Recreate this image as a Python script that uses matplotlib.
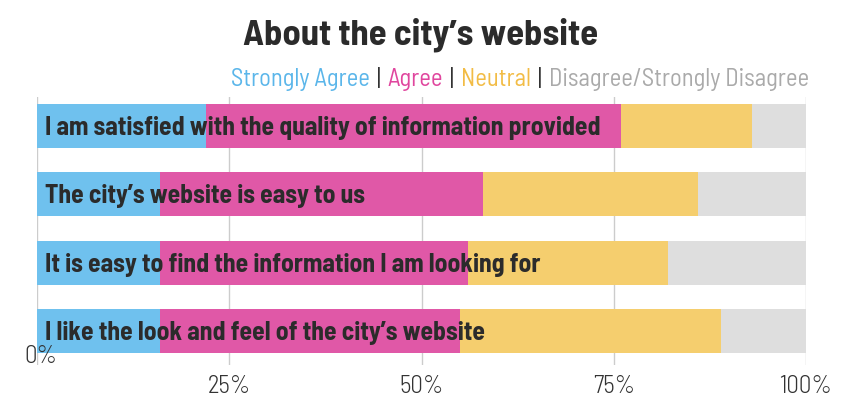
import matplotlib
matplotlib.use("Agg")
import matplotlib.pyplot as plt
import numpy as np
from matplotlib.offsetbox import TextArea, HPacker, AnchoredOffsetbox

questions = [
    "I am satisfied with the quality of information provided",
    "The city\u2019s website is easy to us",
    "It is easy to find the information I am looking for",
    "I like the look and feel of the city\u2019s website",
]
strongly_agree = [22, 16, 16, 16]
agree = [54, 42, 40, 39]
neutral = [17, 28, 26, 34]
disagree = [7, 14, 18, 11]

series = ["Strongly Agree", "Agree", "Neutral", "Disagree/Strongly Disagree"]
bar_colors = ["#6fc1ee", "#e058a7", "#f5ce6e", "#dedede"]
text_colors = ["#5bb6ea", "#e0469e", "#f2bc45", "#aaaaaa"]
xticks = [0, 25, 50, 75, 100]

FONT = "Barlow Semi Condensed"

fig = plt.figure(figsize=(8.55, 4.2), dpi=100)
ax = fig.add_axes([0.0433, 0.131, 0.8994, 0.638])

y = np.arange(len(questions))
left = np.zeros(len(questions))
for vals, col in zip([strongly_agree, agree, neutral, disagree], bar_colors):
    ax.barh(y, vals, left=left, height=0.645, color=col, zorder=2)
    left += np.array(vals)

for i, q in enumerate(questions):
    ax.text(1.0, i + 0.03, q, va="center", ha="left", fontsize=18.5,
            fontweight=700, family=FONT, color="#2b2b2b", zorder=3)

ax.set_xlim(0, 100)
ax.set_ylim(3.5, -0.425)
ax.set_yticks([])
ax.set_xticks(xticks)
ax.grid(axis="x", color="#cccccc", lw=1, zorder=0)
ax.tick_params(axis="x", length=0, pad=7, labelsize=18, labelcolor="#333333")
ax.set_xticklabels([""] + [f"{t}%" for t in xticks[1:]], family=FONT, fontweight=300)
ax.text(0.5, 3.37, f"{xticks[0]}%", ha="center", va="center", fontsize=18,
        family=FONT, fontweight=300, color="#333333", zorder=4)
for s in ax.spines.values():
    s.set_visible(False)

fig.text(0.492, 0.917, "About the city\u2019s website", ha="center", va="center",
         fontsize=26.3, fontweight=700, family=FONT, color="#2b2b2b")

parts = []
for k, (name, col) in enumerate(zip(series, text_colors)):
    if k:
        parts.append(TextArea("|", textprops=dict(color="#333333", fontsize=17.7, family=FONT)))
    parts.append(TextArea(name, textprops=dict(color=col, fontsize=17.7, family=FONT)))
box = HPacker(children=parts, align="baseline", pad=0, sep=5)
anch = AnchoredOffsetbox(loc="center right", child=box, frameon=False,
                         bbox_to_anchor=(0.946, 0.81), bbox_transform=fig.transFigure,
                         borderpad=0, pad=0)
fig.add_artist(anch)

fig.savefig("out.png", dpi=100)
